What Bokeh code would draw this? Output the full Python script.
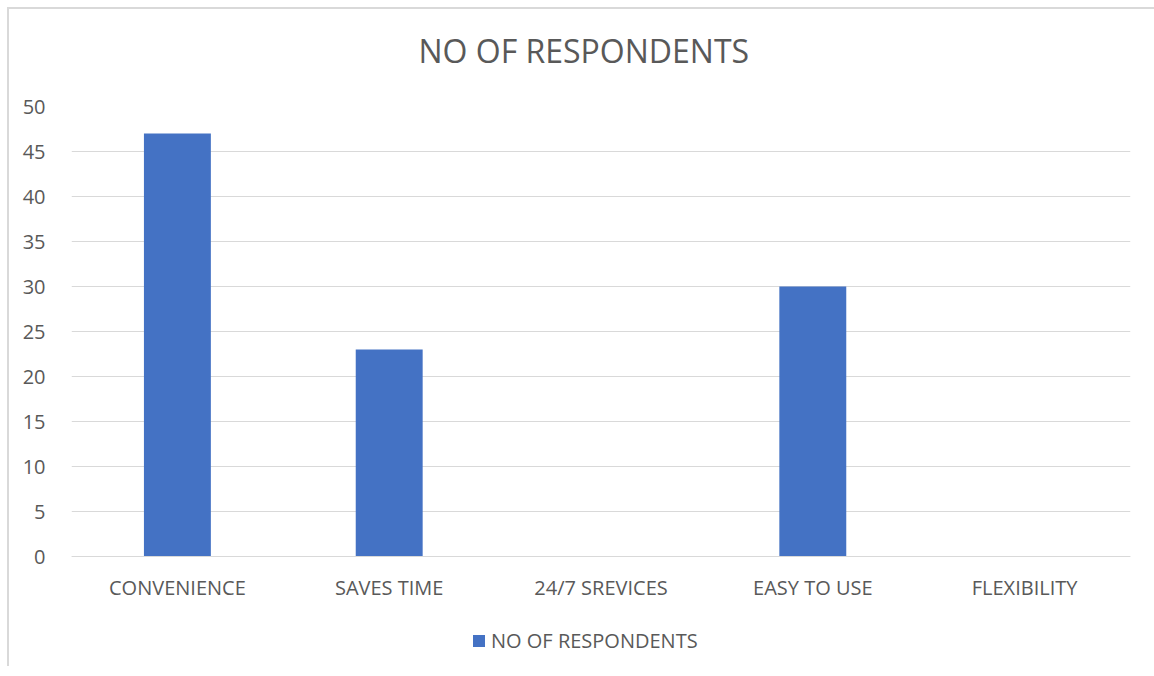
from bokeh.plotting import figure
from bokeh.models import Range1d, FactorRange, Legend, LegendItem, FixedTicker, Title
from bokeh.embed import file_html
from bokeh.resources import INLINE

# Survey data: reasons given and number of respondents for each
categories = ["CONVENIENCE", "SAVES TIME", "24/7 SREVICES", "EASY TO USE", "FLEXIBILITY"]
respondents = [47, 23, 0, 30, 0]
y_ticks = [0, 5, 10, 15, 20, 25, 30, 35, 40, 45, 50]
series_name = "NO OF RESPONDENTS"
chart_title = "NO OF RESPONDENTS"

FONT = "Open Sans"
TEXT_COLOR = "#595959"
BAR_COLOR = "#4472C4"
GRID_COLOR = "#D9D9D9"

# value axis runs 0..50 over 450 px; the frame continues below zero to hold the legend
PX_PER_UNIT = 450 / 50
y_bottom = -110 / PX_PER_UNIT

p = figure(
    x_range=FactorRange(*categories, range_padding=0),
    y_range=Range1d(y_bottom, 50),
    width=None, height=None,
    frame_width=1059, frame_height=560,
    output_backend="svg", toolbar_location=None,
    min_border_left=62, min_border_right=24,
    min_border_top=97, min_border_bottom=0,
    title=None,
)
p.margin = (7, 0, 0, 7)
p.styles = {"border-left": "2px solid #D9D9D9", "border-top": "2px solid #D9D9D9"}

bars = p.vbar(x=categories, top=respondents, width=0.316, color=BAR_COLOR, line_color=None)

p.outline_line_color = None
p.background_fill_color = "white"
p.border_fill_color = "white"

# gap between the title and the plot area, then the title itself
p.add_layout(Title(text=" ", text_font_size="10px", standoff=22), "above")
p.add_layout(Title(
    text=chart_title, align="left", offset=347, standoff=0,
    text_font=FONT, text_font_size="32px", text_font_style="normal", text_color=TEXT_COLOR,
), "above")

# axes
p.yaxis.ticker = FixedTicker(ticks=y_ticks)
p.yaxis.axis_line_color = None
p.yaxis.major_tick_line_color = None
p.yaxis.minor_tick_line_color = None
p.yaxis.major_label_text_font = FONT
p.yaxis.major_label_text_font_size = "20px"
p.yaxis.major_label_text_color = TEXT_COLOR
p.yaxis.major_label_standoff = 20

p.xaxis.fixed_location = 0
p.xaxis.axis_line_color = GRID_COLOR
p.xaxis.axis_line_width = 1
p.xaxis.major_tick_line_color = None
p.xaxis.minor_tick_line_color = None
p.xaxis.major_label_text_font = FONT
p.xaxis.major_label_text_font_size = "20px"
p.xaxis.major_label_text_color = TEXT_COLOR
p.xaxis.major_label_standoff = 11

p.xgrid.grid_line_color = None
p.ygrid.grid_line_color = GRID_COLOR
p.ygrid.grid_line_width = 1

# legend sits under the category labels
legend = Legend(
    items=[LegendItem(label=series_name, renderers=[bars])],
    orientation="horizontal", location=(400, 12),
    glyph_width=15, glyph_height=15, label_standoff=5,
    label_text_font=FONT, label_text_font_size="20px", label_text_color=TEXT_COLOR,
    border_line_color=None, background_fill_alpha=0, margin=0, padding=0,
)
p.add_layout(legend)

open("out.html", "w").write(file_html(p, INLINE))
